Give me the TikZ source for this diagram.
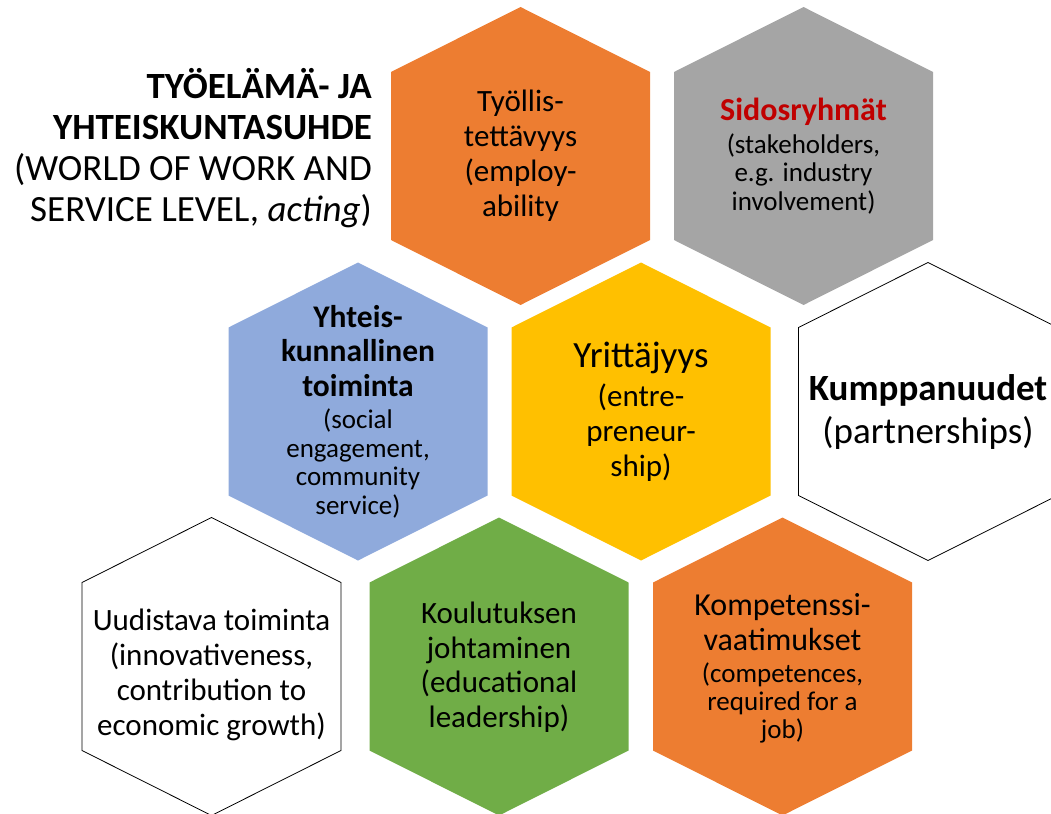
\documentclass[tikz,border=0pt]{standalone}
\usepackage{fontspec}
\setmainfont{Carlito}
\usepackage{xcolor}
\usetikzlibrary{calc}
\definecolor{hexorange}{HTML}{ED7D31}
\definecolor{hexgrey}{HTML}{A5A5A5}
\definecolor{hexblue}{HTML}{8FAADC}
\definecolor{hexyellow}{HTML}{FFC000}
\definecolor{hexgreen}{HTML}{70AD47}
\definecolor{titlered}{HTML}{C00000}
\newcommand{\fsz}[2]{\fontsize{#1}{#2}\selectfont}

\begin{document}
\begin{tikzpicture}[x=1pt, y=-1pt,
    hexa/.style={line width=0.8pt},
    txt/.style={align=center, inner sep=0pt, text=black},
    ttl/.style={align=right, inner sep=0pt, anchor=north east}]
    \useasboundingbox (0,0) rectangle (1051,813);
    \clip (0,0) rectangle (1051,813);
    % honeycomb
    \foreach \cx/\cy/\col/\edge in {520.5/156/hexorange/none, 803.5/156/hexgrey/none,
        358/411.5/hexblue/none, 641/411.5/hexyellow/none, 928/411.5/white/black,
        211.5/666.5/white/black, 499/666.5/hexgreen/none, 782.5/666.5/hexorange/none}
      \filldraw[hexa, fill=\col, draw=\edge] (\cx,\cy-149) -- ++(129.5,65) -- ++(0,168)
        -- ++(-129.5,65) -- ++(-129.5,-65) -- ++(0,-168) -- cycle;
    % heading
    \node[ttl, font=\fsz{37}{41}] (title) at (372,68) {\bfseries TYÖELÄMÄ- JA\\
      \bfseries YHTEISKUNTASUHDE\\(WORLD OF WORK AND\\SERVICE LEVEL, \textit{acting})};
    % top row
    \node[txt, font=\fsz{31}{35}] (employ) at (520.5,156) {Työllis-\\tettävyys\\(employ-\\ability};
    \node[txt, font=\fsz{27}{28.5}] (stake) at (803.5,156) {\fsz{32}{33}\bfseries\color{titlered}Sidosryhmät\\[4.5pt]
      (stakeholders,\\e.g. industry\\involvement)};
    % middle row
    \node[txt, font=\fsz{27}{28.5}] (social) at (358,411.5) {\fsz{31.5}{34}\bfseries Yhteis-\\[6pt]
      \fsz{31.5}{34}\bfseries kunnallinen\\[6pt]\fsz{31.5}{34}\bfseries toiminta\\[4pt]
      (social\\engagement,\\community\\service)};
    \node[txt, font=\fsz{31}{35}] (entre) at (641,411.5) {\fsz{37}{39}Yrittäjyys\\[4pt](entre-\\
      preneur-\\ship)};
    \node[txt, font=\fsz{37}{43}] (partner) at (928,411.5) {\bfseries Kumppanuudet\\(partnerships)};
    % bottom row
    \node[txt, font=\fsz{31}{35}] (innov) at (211.5,675) {Uudistava toiminta\\
      (innovativeness,\\contribution to\\economic growth)};
    \node[txt, font=\fsz{31}{34.5}] (lead) at (499,667) {Koulutuksen\\johtaminen\\
      (educational\\leadership)};
    \node[txt, font=\fsz{27}{28}] (compet) at (782.5,668) {\fsz{32}{35}Kompetenssi-\\[7pt]
      \fsz{32}{35}vaatimukset\\[4pt](competences,\\required for a\\job)};
\end{tikzpicture}
\end{document}
